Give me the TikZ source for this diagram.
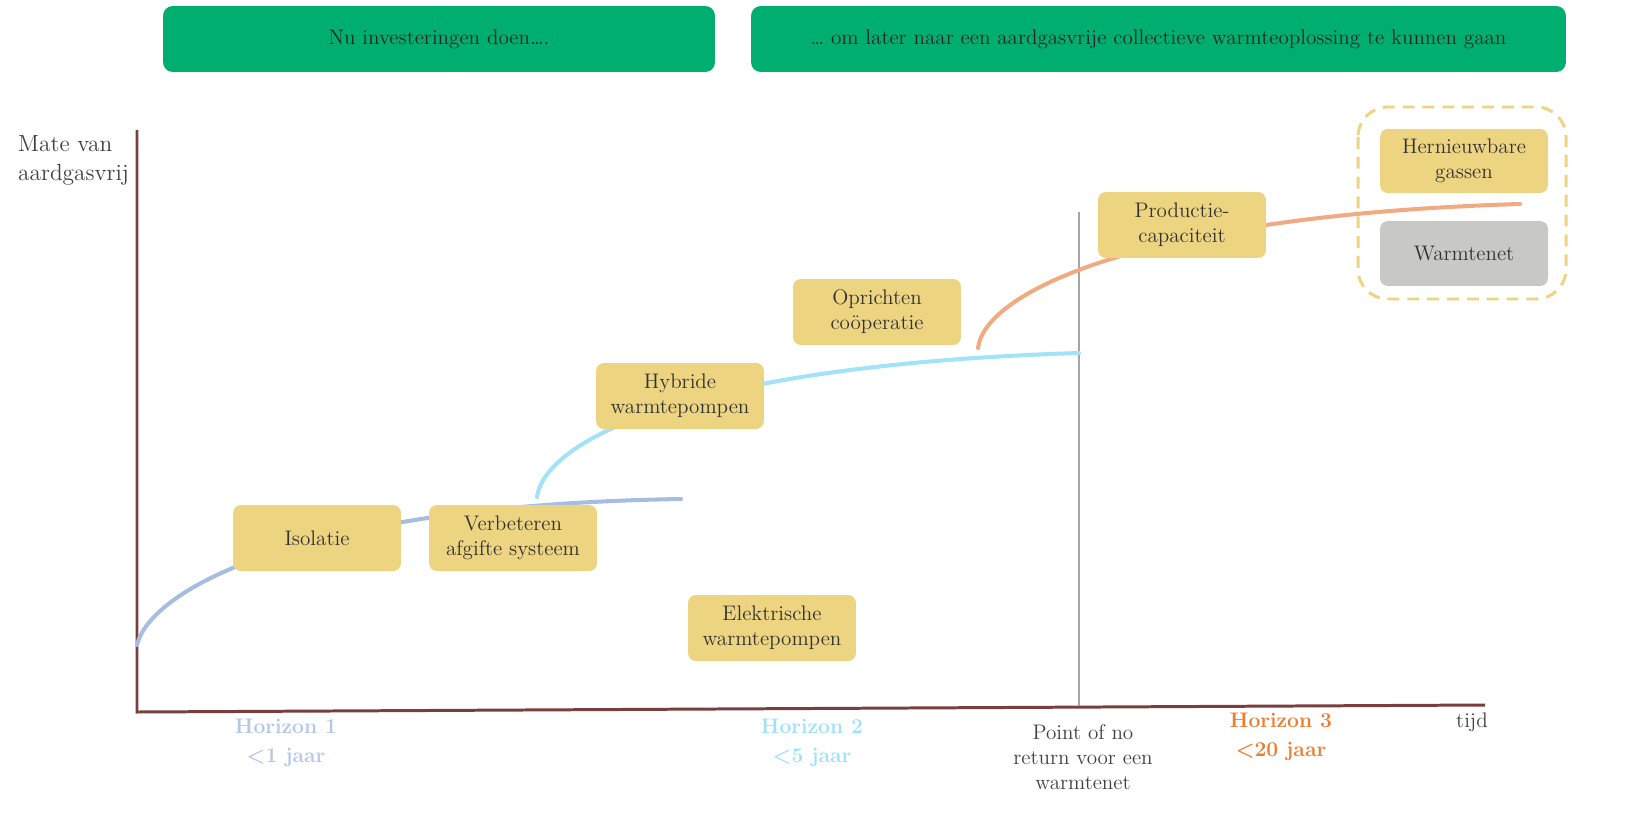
\documentclass[tikz,border=0pt]{standalone}
\usepackage{fontspec}
\usetikzlibrary{calc}
\definecolor{hgreen}{RGB}{0,174,111}
\definecolor{gold}{RGB}{237,212,128}
\definecolor{greybox}{RGB}{200,200,196}
\definecolor{axiscol}{RGB}{122,62,62}
\definecolor{vline}{RGB}{165,165,165}
\definecolor{bluecurve}{RGB}{166,188,226}
\definecolor{cyancurve}{RGB}{162,226,250}
\definecolor{orangecurve}{RGB}{241,170,130}
\definecolor{hone}{RGB}{180,199,231}
\definecolor{htwo}{RGB}{160,225,250}
\definecolor{hthree}{RGB}{237,125,49}
\definecolor{txt}{RGB}{50,50,50}
\begin{document}
\begin{tikzpicture}[x=0.02cm,y=-0.02cm,
  every node/.style={font=\fontsize{12}{14.2}\selectfont, text=txt},
  banner/.style={fill=hgreen, rounded corners=5.5pt, minimum height=1.32cm, inner sep=0pt, text=black!85},
  stepbox/.style={fill=gold, rounded corners=4.5pt, minimum width=3.36cm, minimum height=1.32cm, align=center, inner sep=0pt},
  greystep/.style={stepbox, fill=greybox},
  curve/.style={line width=2.3pt, line cap=round},
  hlabel/.style={align=center, font=\bfseries\fontsize{12}{16.4}\selectfont},
  axisline/.style={draw=axiscol, line width=1.7pt}
]
\useasboundingbox (0,0) rectangle (1650,832);

% banners
\node[banner, minimum width=11.04cm] (b1) at (439,39) {Nu investeringen doen….};
\node[banner, minimum width=16.3cm] (b2) at (1158.5,39) {… om later naar een aardgasvrije collectieve warmteoplossing te kunnen gaan};

% axes
\coordinate (origin) at (137,712);
\coordinate (ytop) at (137,130);
\coordinate (xend) at (1485,705);
\draw[axisline] (ytop) -- (origin) -- (xend);

% point of no return line
\coordinate (pnrtop) at (1079,212);
\coordinate (pnrbot) at (1079,706);
\draw[draw=vline, line width=1.2pt] (pnrtop) -- (pnrbot);

% curves
\coordinate (b0) at (137,645);
\coordinate (b9) at (681,499);
\draw[curve, draw=bluecurve] (b0) .. controls (150,590) and (300,505) .. (b9);
\coordinate (c0) at (537,497);
\coordinate (c9) at (1079,353);
\draw[curve, draw=cyancurve] (c0) .. controls (545,440) and (690,365) .. (c9);
\coordinate (o0) at (978,348);
\coordinate (o9) at (1520,204);
\draw[curve, draw=orangecurve] (o0) .. controls (985,290) and (1150,215) .. (o9);

% dashed group
\draw[draw=gold, line width=1.7pt, dash pattern=on 6.8pt off 4.5pt, rounded corners=17pt] (1358,107) rectangle (1566,299);

% step boxes
\node[stepbox] (iso) at (317,538) {Isolatie};
\node[stepbox] (verb) at (513,538) {Verbeteren\\afgifte systeem};
\node[stepbox] (hyb) at (680,396) {Hybride\\warmtepompen};
\node[stepbox] (opr) at (877,312) {Oprichten\\coöperatie};
\node[stepbox] (elek) at (772,628) {Elektrische\\warmtepompen};
\node[stepbox] (prod) at (1182,225) {Productie-\\capaciteit};
\node[stepbox, minimum height=1.28cm] (hern) at (1464,161) {Hernieuwbare\\gassen};
\node[greystep, minimum height=1.3cm] (wnet) at (1464,253.5) {Warmtenet};

% labels
\node[align=left, anchor=west, font=\fontsize{13.3}{16.5}\selectfont, text=black!75] (yl) at (12,160) {Mate van\\aardgasvrij};
\node[anchor=west, text=black!75] (xl) at (1450,722) {tijd};
\node[hlabel, text=hone] (h1) at (286,743) {Horizon 1\\<1 jaar};
\node[hlabel, text=htwo] (h2) at (812,743) {Horizon 2\\<5 jaar};
\node[hlabel, text=hthree] (h3) at (1281,737) {Horizon 3\\<20 jaar};
\node[align=center, text=black!75] (pnr) at (1083,757) {Point of no\\return voor een\\warmtenet};
\end{tikzpicture}
\end{document}
